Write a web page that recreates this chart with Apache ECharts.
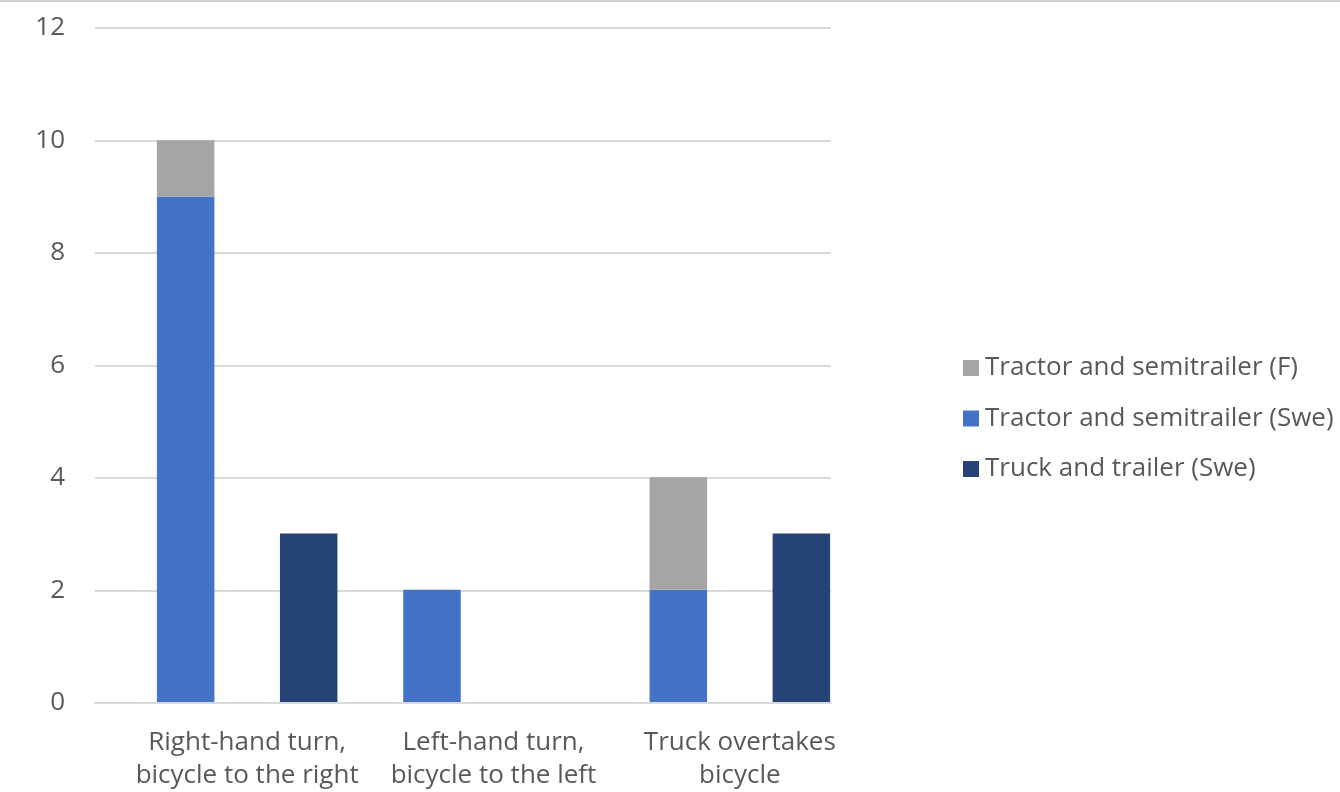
<!DOCTYPE html>
<html>
<head>
<meta charset="utf-8">
<script src="https://cdn.jsdelivr.net/npm/echarts@6/dist/echarts.min.js"></script>
<style>
  html, body { margin: 0; padding: 0; background: #ffffff; }
  #chart { width: 1340px; height: 792px; border-top: 2px solid #d0d0d0; box-sizing: border-box; }
</style>
</head>
<body>
<div id="chart"></div>
<script>
// Crash scenarios (categories) and counts per vehicle combination
const categories = [
  'Right-hand turn,\nbicycle to the right',
  'Left-hand turn,\nbicycle to the left',
  'Truck overtakes\nbicycle'
];
const tractorSwe = [9, 2, 2];     // Tractor and semitrailer (Swe)
const tractorF = [1, 0, 2];       // Tractor and semitrailer (F)
const truckTrailerSwe = [3, 0, 3]; // Truck and trailer (Swe)
const yTicks = { min: 0, max: 12, interval: 2 };

const FONT = '"Open Sans", "Noto Sans", sans-serif';
const TEXT = '#595959';
const FS = 26;

const chart = echarts.init(document.getElementById('chart'), null, { renderer: 'canvas' });

chart.setOption({
  animation: false,
  textStyle: { fontFamily: FONT },
  grid: [
    // value axis + gridlines
    { left: 95, right: 509, top: 26, bottom: 89 },
    // columns + category labels
    { left: 124, right: 477, top: 26, bottom: 89 }
  ],
  legend: {
    orient: 'vertical',
    left: 958,
    top: 348,
    itemWidth: 16,
    itemHeight: 16,
    itemGap: 24.5,
    icon: 'rect',
    data: ['Tractor and semitrailer (F)', 'Tractor and semitrailer (Swe)', 'Truck and trailer (Swe)'],
    textStyle: { color: TEXT, fontSize: FS, fontFamily: FONT, padding: [0, 0, 0, 1] }
  },
  xAxis: [
    {
      gridIndex: 0, type: 'category', data: categories,
      axisLine: { show: true, lineStyle: { color: '#d9d9d9', width: 2 } },
      axisTick: { show: false }, axisLabel: { show: false }
    },
    {
      gridIndex: 1, type: 'category', data: categories,
      axisLine: { show: false }, axisTick: { show: false },
      axisLabel: { color: TEXT, fontSize: FS, fontFamily: FONT, margin: 24, lineHeight: 33, interval: 0 }
    }
  ],
  yAxis: [
    {
      gridIndex: 0, type: 'value', min: yTicks.min, max: yTicks.max, interval: yTicks.interval,
      axisLine: { show: false }, axisTick: { show: false },
      axisLabel: { color: TEXT, fontSize: FS, fontFamily: FONT, margin: 30 },
      splitLine: { lineStyle: { color: '#d9d9d9', width: 2 } }
    },
    {
      gridIndex: 1, type: 'value', min: yTicks.min, max: yTicks.max, interval: yTicks.interval,
      show: false, splitLine: { show: false }
    }
  ],
  series: [
    {
      name: 'Tractor and semitrailer (Swe)', type: 'bar', stack: 'tractor',
      xAxisIndex: 1, yAxisIndex: 1, data: tractorSwe,
      barWidth: 57.5, barGap: '114%',
      itemStyle: { color: '#4472c4' }
    },
    {
      name: 'Tractor and semitrailer (F)', type: 'bar', stack: 'tractor',
      xAxisIndex: 1, yAxisIndex: 1, data: tractorF,
      barWidth: 57.5, barGap: '114%',
      itemStyle: { color: '#a5a5a5' }
    },
    {
      name: 'Truck and trailer (Swe)', type: 'bar', stack: 'truck',
      xAxisIndex: 1, yAxisIndex: 1, data: truckTrailerSwe,
      barWidth: 57.5, barGap: '114%',
      itemStyle: { color: '#264478' }
    }
  ]
});
</script>
</body>
</html>
